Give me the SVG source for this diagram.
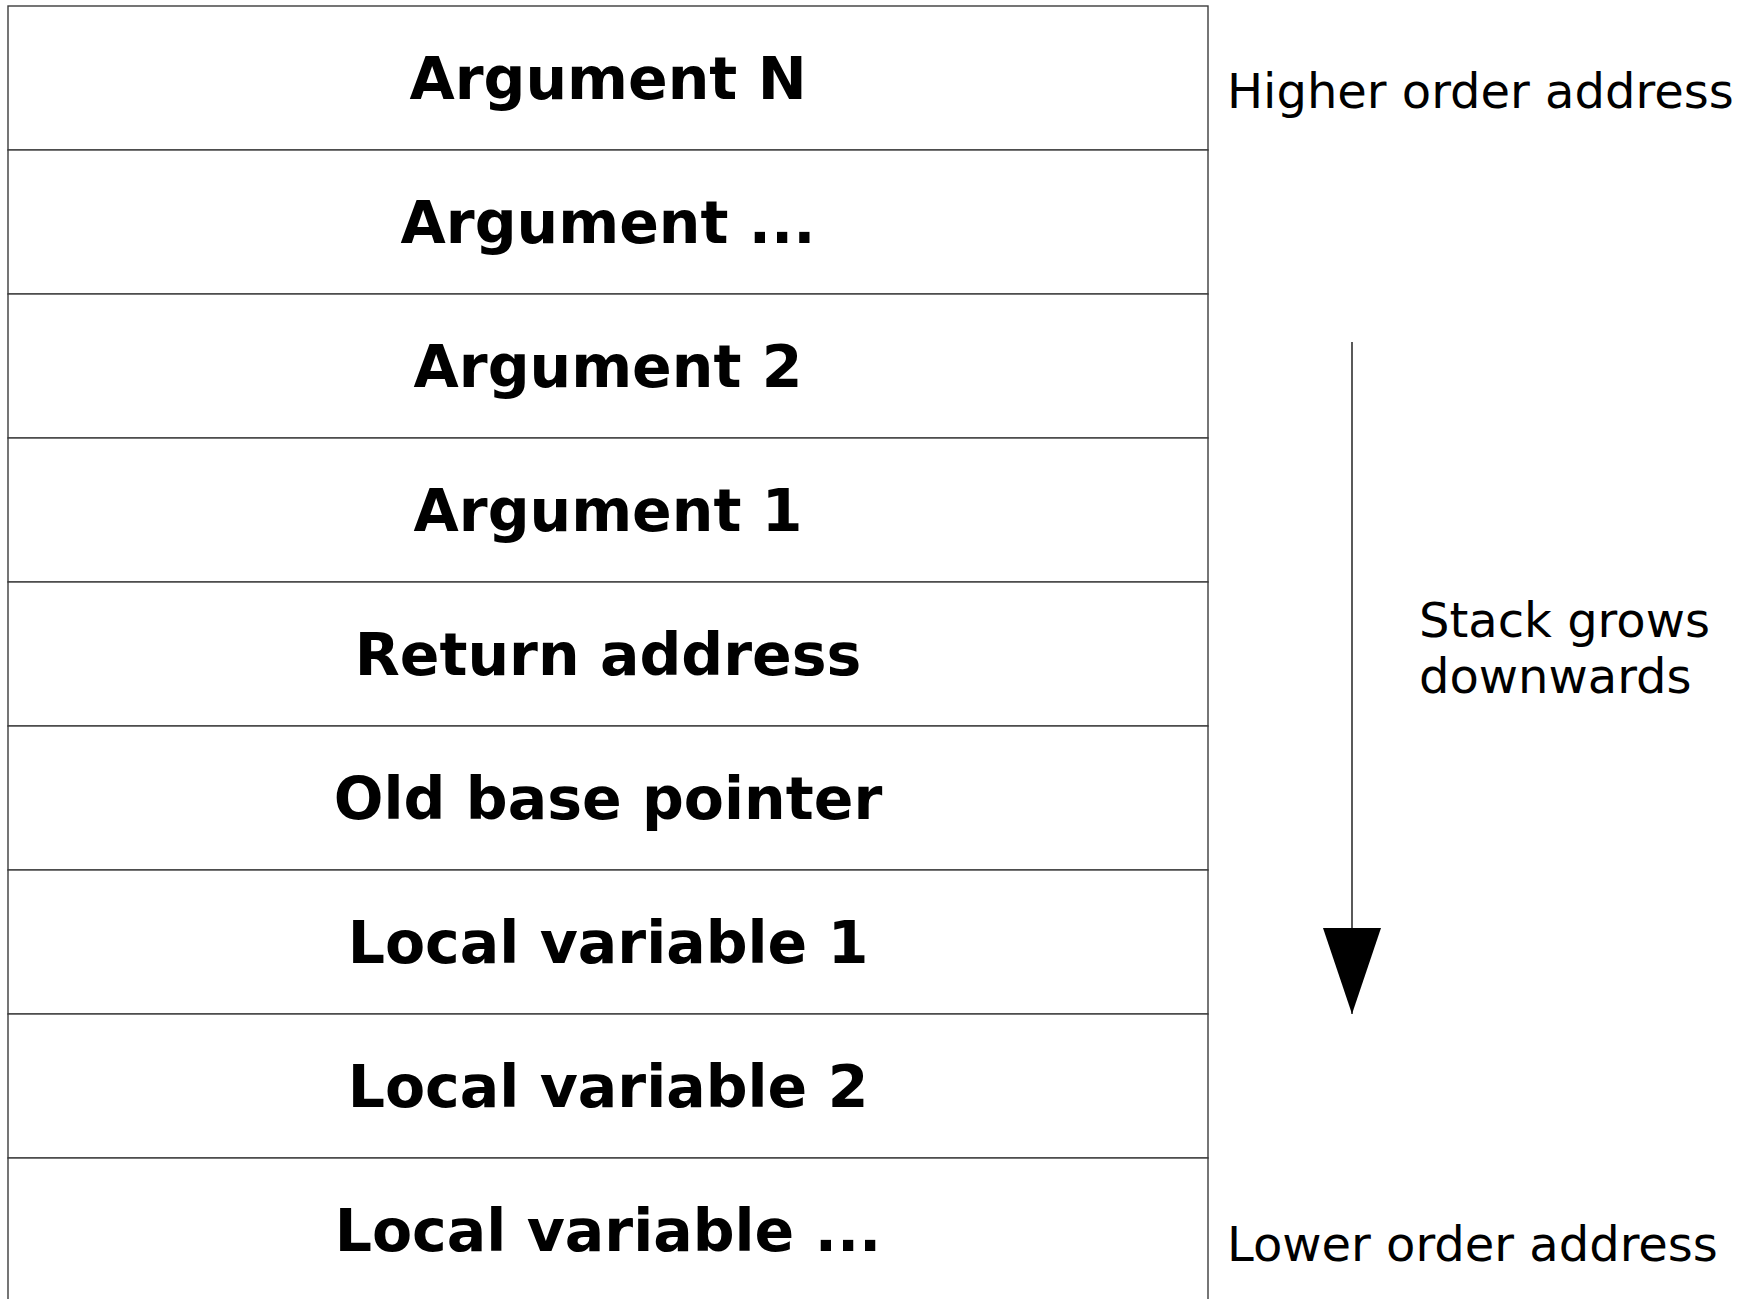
<svg xmlns="http://www.w3.org/2000/svg" width="1749" height="1299" viewBox="0 0 1749 1299">
<style>
.cell{fill:#ffffff;stroke:#3c3c3c;stroke-width:1.4}
.lbl{font-family:"DejaVu Sans",sans-serif;font-weight:bold;font-size:58.5px;fill:#000;text-anchor:middle}
.note{font-family:"DejaVu Sans",sans-serif;font-size:48px;fill:#000}
.conn{stroke:#000;stroke-width:1.3;fill:none}
</style>
<defs>
<marker id="head" markerUnits="userSpaceOnUse" markerWidth="86" markerHeight="58" viewBox="0 0 86 58" refX="86" refY="29" orient="auto">
<path d="M0,0 L86,29 L0,58 Z" fill="#000"/>
</marker>
</defs>
<rect x="0" y="0" width="1749" height="1299" fill="#ffffff"/>
<g id="row-argument-n"><rect class="cell" x="8" y="6" width="1200" height="144"/><text class="lbl" x="608" y="99">Argument N</text></g>
<g id="row-argument-dots"><rect class="cell" x="8" y="150" width="1200" height="144"/><text class="lbl" x="608" y="243">Argument ...</text></g>
<g id="row-argument-2"><rect class="cell" x="8" y="294" width="1200" height="144"/><text class="lbl" x="608" y="387">Argument 2</text></g>
<g id="row-argument-1"><rect class="cell" x="8" y="438" width="1200" height="144"/><text class="lbl" x="608" y="531">Argument 1</text></g>
<g id="row-return-address"><rect class="cell" x="8" y="582" width="1200" height="144"/><text class="lbl" x="608" y="675">Return address</text></g>
<g id="row-old-base-pointer"><rect class="cell" x="8" y="726" width="1200" height="144"/><text class="lbl" x="608" y="819">Old base pointer</text></g>
<g id="row-local-variable-1"><rect class="cell" x="8" y="870" width="1200" height="144"/><text class="lbl" x="608" y="963">Local variable 1</text></g>
<g id="row-local-variable-2"><rect class="cell" x="8" y="1014" width="1200" height="144"/><text class="lbl" x="608" y="1107">Local variable 2</text></g>
<g id="row-local-variable-dots"><rect class="cell" x="8" y="1158" width="1200" height="160"/><text class="lbl" x="608" y="1251">Local variable ...</text></g>
<g id="label-higher"><text class="note" x="1227" y="108">Higher order address</text></g>
<g id="label-lower"><text class="note" x="1227" y="1261">Lower order address</text></g>
<g id="label-stack"><text class="note" x="1419" y="637">Stack grows</text><text class="note" x="1419" y="693">downwards</text></g>
<g id="connectors">
<line class="conn" x1="1352" y1="342" x2="1352" y2="1014" marker-end="url(#head)"/>
</g>
</svg>
